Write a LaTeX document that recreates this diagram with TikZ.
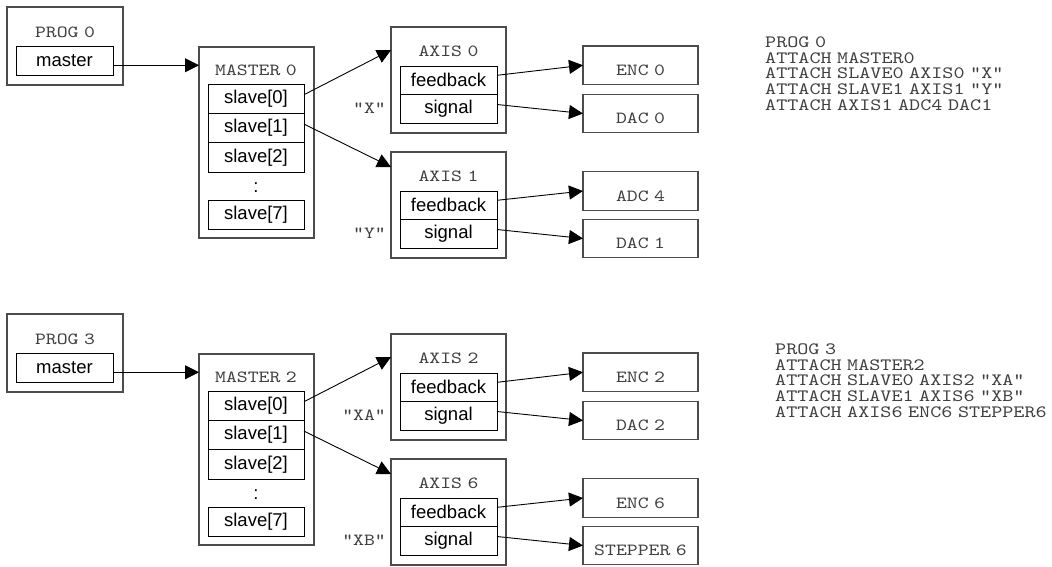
\documentclass[tikz,border=0pt]{standalone}
\usepackage{fontspec}
\setsansfont{Liberation Sans}
\newfontfamily\codefont[FakeStretch=1.22,WordSpace=0.5]{lmmono10-regular.otf}
\usetikzlibrary{arrows.meta,calc}

\tikzset{
  outerbox/.style={draw=black!70, line width=1.3pt, rectangle, inner sep=0pt, outer sep=0pt, fill=white},
  innerbox/.style={draw=black, line width=0.9pt, rectangle, inner sep=0pt, outer sep=0pt,
    minimum width=97pt, font=\sffamily\fontsize{18.5}{22}\selectfont},
  ttl/.style={inner sep=0pt, text=black!75, font=\codefont\fontsize{17}{16}\selectfont},
  code/.style={inner sep=0pt, text=black!75, font=\codefont\fontsize{17.3}{15.7}\selectfont, anchor=base west},
  arr/.style={draw=black, line width=0.9pt, -{Triangle[length=14pt,width=14pt]}},
}

\begin{document}
\begin{tikzpicture}[x=1pt,y=-1pt]
\fill[white] (0,0) rectangle (1052,566);
\useasboundingbox (0,0) rectangle (1052,566);

% one program tree per row: program -> master -> two axes -> devices
\foreach \g/\dy/\pg/\ms/\axa/\axb/\la/\lb/\ta/\tb/\tc/\td in {
  t/0/PROG 0/MASTER 0/AXIS 0/AXIS 1/"X"/"Y"/ENC 0/DAC 0/ADC 4/DAC 1,
  b/307/PROG 3/MASTER 2/AXIS 2/AXIS 6/"XA"/"XB"/ENC 2/DAC 2/ENC 6/STEPPER 6}{
\begin{scope}[name prefix=\g-]
  % program block
  \node[outerbox, minimum width=116pt, minimum height=78pt] (P) at (65,46+\dy) {};
  \node[ttl] (Pt) at (65,32+\dy) {\pg};
  \node[innerbox, minimum height=29.5pt] (Pm) at (64.5,60.75+\dy) {master};

  % master block with its slave slots
  \node[outerbox, minimum width=115pt, minimum height=191pt] (M) at (256.5,142.5+\dy) {};
  \node[ttl] (Mt) at (256,70.5+\dy) {\ms};
  \node[innerbox, minimum width=96pt, minimum height=29.4pt] (S0) at (256,98.7+\dy) {slave[0]};
  \node[innerbox, minimum width=96pt, minimum height=29.4pt] (S1) at (256,128.1+\dy) {slave[1]};
  \node[innerbox, minimum width=96pt, minimum height=29.4pt] (S2) at (256,157.5+\dy) {slave[2]};
  \node[inner sep=0pt, font=\sffamily\fontsize{18.5}{22}\selectfont] (dots) at (256,188+\dy) {:};
  \node[innerbox, minimum width=96pt, minimum height=29.4pt] (S7) at (256,214.7+\dy) {slave[7]};

  % first axis
  \node[outerbox, minimum width=115pt, minimum height=106pt] (A0) at (448.5,80+\dy) {};
  \node[ttl] (A0t) at (448.5,51+\dy) {\axa};
  \node[innerbox, minimum height=28.7pt] (F0) at (448.5,80.3+\dy) {feedback};
  \node[innerbox, minimum height=28.7pt] (G0) at (448.5,109+\dy) {signal};
  \node[ttl, anchor=east] (La) at (386,108.3+\dy) {\la};

  % second axis
  \node[outerbox, minimum width=115pt, minimum height=106pt] (A1) at (448.5,205+\dy) {};
  \node[ttl] (A1t) at (448.5,176+\dy) {\axb};
  \node[innerbox, minimum height=28.7pt] (F1) at (448.5,205.3+\dy) {feedback};
  \node[innerbox, minimum height=28.7pt] (G1) at (448.5,234+\dy) {signal};
  \node[ttl, anchor=east] (Lb) at (386,233.3+\dy) {\lb};

  % attached devices
  \node[outerbox, minimum width=115pt, minimum height=38.5pt] (Ta) at (640.5,65.25+\dy) {};
  \node[outerbox, minimum width=115pt, minimum height=38.5pt] (Tb) at (640.5,113.5+\dy) {};
  \node[outerbox, minimum width=115pt, minimum height=38.5pt] (Tc) at (640.5,191+\dy) {};
  \node[outerbox, minimum width=115pt, minimum height=38.5pt] (Td) at (640.5,238.5+\dy) {};
  \node[ttl] (Tat) at (640.5,70.25+\dy) {\ta};
  \node[ttl] (Tbt) at (640.5,118.5+\dy) {\tb};
  \node[ttl] (Tct) at (640.5,196+\dy) {\tc};
  \node[ttl] (Tdt) at (640.5,243.5+\dy) {\td};

  % connectors
  \coordinate (pmo) at ([yshift=-4.5pt]Pm.east);
  \draw[arr] (pmo) -- (pmo -| M.west);
  \draw[arr] ([yshift=4pt]S0.east) -- ([yshift=-23pt]A0.north west);
  \draw[arr] ([yshift=4pt]S1.east) -- ([yshift=-15pt]A1.north west);
  \draw[arr] ([yshift=5pt]F0.east) -- (Ta.west);
  \draw[arr] ([yshift=4.5pt]G0.east) -- (Tb.west);
  \draw[arr] ([yshift=5pt]F1.east) -- (Tc.west);
  \draw[arr] ([yshift=4.5pt]G1.east) -- (Td.west);
\end{scope}
}

% command listings
\foreach \i/\txt in {0/PROG 0, 1/ATTACH MASTER0, 2/ATTACH SLAVE0 AXIS0 "X",
                     3/ATTACH SLAVE1 AXIS1 "Y", 4/ATTACH AXIS1 ADC4 DAC1}
  \node[code] (ca\i) at (765,47.5+15.7*\i) {\txt};
\foreach \i/\txt in {0/PROG 3, 1/ATTACH MASTER2, 2/ATTACH SLAVE0 AXIS2 "XA",
                     3/ATTACH SLAVE1 AXIS6 "XB", 4/ATTACH AXIS6 ENC6 STEPPER6}
  \node[code] (cb\i) at (775,354.5+15.7*\i) {\txt};
\end{tikzpicture}
\end{document}
